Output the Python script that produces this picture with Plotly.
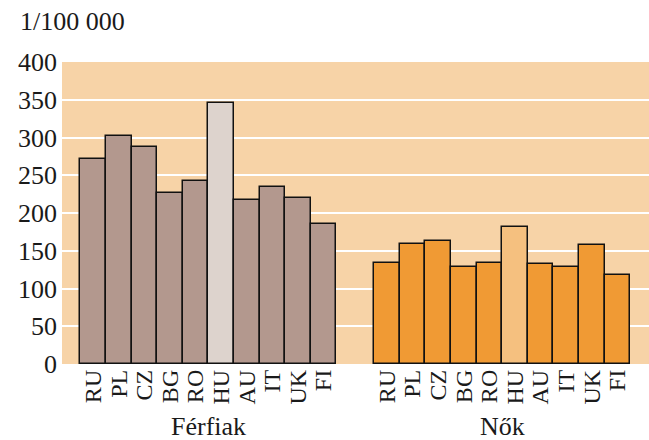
import plotly.graph_objects as go

countries = ["RU", "PL", "CZ", "BG", "RO", "HU", "AU", "IT", "UK", "FI"]
men = [272, 302, 288, 227, 243, 346, 217, 234, 220, 185]
women = [134, 159, 163, 128, 134, 181, 132, 128, 158, 118]
groups = ["Férfiak", "Nők"]
unit_label = "1/100 000"
y_ticks = [0, 50, 100, 150, 200, 250, 300, 350, 400]

FONT = "Liberation Serif"
GAP = 1.47  # gap between the two groups, in bar widths

x_men = list(range(len(countries)))
x_women = [i + len(countries) + GAP for i in x_men]

men_colors = ["#ddd3cd" if c == "HU" else "#b3988e" for c in countries]
women_colors = ["#f5c07f" if c == "HU" else "#f09a34" for c in countries]

fig = go.Figure()
fig.add_trace(go.Bar(
    x=x_men, y=men, width=1,
    marker=dict(color=men_colors, line=dict(color="#111111", width=1.5)),
    showlegend=False,
))
fig.add_trace(go.Bar(
    x=x_women, y=women, width=1,
    marker=dict(color=women_colors, line=dict(color="#111111", width=1.5)),
    showlegend=False,
))

group_centers = [sum(x_men) / len(x_men), sum(x_women) / len(x_women)]
annotations = [
    dict(text=g, x=xc, xref="x", y=-0.208, yref="paper",
         showarrow=False, xanchor="center", yanchor="middle",
         font=dict(family=FONT, size=26, color="#1a1a1a"))
    for g, xc in zip(groups, group_centers)
]
annotations.append(dict(
    text=unit_label, x=-0.075, xref="paper", y=1.133, yref="paper",
    showarrow=False, xanchor="left", yanchor="middle",
    font=dict(family=FONT, size=26, color="#1a1a1a"),
))

fig.update_layout(
    width=649, height=440,
    margin=dict(l=62, r=0, t=62, b=76),
    paper_bgcolor="white",
    plot_bgcolor="#f7d3a7",
    bargap=0,
    barmode="overlay",
    annotations=annotations,
    xaxis=dict(
        range=[-1.214, x_women[-1] + 1.23],
        tickvals=x_men + x_women,
        ticktext=countries + countries,
        tickangle=-90,
        tickfont=dict(family=FONT, size=24, color="#1a1a1a"),
        showgrid=False, zeroline=False, showline=False, ticks="",
        automargin=False,
    ),
    yaxis=dict(
        range=[0, 400],
        tickvals=y_ticks,
        tickfont=dict(family=FONT, size=26, color="#1a1a1a"),
        showgrid=True, gridcolor="white", gridwidth=2,
        zeroline=False, showline=False, ticks="",
        ticklabelstandoff=4,
        automargin=False,
    ),
)

# the page's default body margin would shift the figure by 8px
fig.write_html(
    "out.html",
    config={"displayModeBar": False},
    post_script="document.body.style.margin='0';document.body.style.overflow='hidden';",
)
